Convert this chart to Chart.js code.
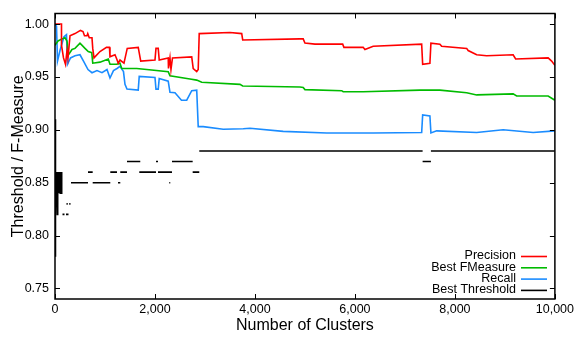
<!DOCTYPE html>
<html>
<head>
<meta charset="utf-8">
<script src="https://cdn.jsdelivr.net/npm/chart.js@4.4.1/dist/chart.umd.min.js"></script>
<style>
  body { margin: 0; background: #fff; }
  #wrap { width: 577px; height: 337px; position: relative; }
</style>
</head>
<body>
<div id="wrap"><canvas id="grafica"></canvas></div>
<script>
// valores: [clusters, valor]
const precision = [[0,1.000],[130,1.000],[130,0.980],[170,0.968],[210,0.962],[240,0.975],[260,0.968],[300,0.989],[400,0.991],[510,0.994],[560,0.993],[590,0.989],[640,0.989],[655,0.991],[685,0.987],[740,0.987],[755,0.977],[780,0.968],[900,0.974],[1030,0.978],[1090,0.978],[1100,0.969],[1200,0.971],[1235,0.967],[1265,0.963],[1300,0.966],[1380,0.963],[1445,0.977],[1665,0.978],[1715,0.965],[2000,0.966],[2020,0.977],[2065,0.977],[2085,0.966],[2265,0.968],[2270,0.958],[2300,0.968],[2320,0.957],[2350,0.968],[2735,0.969],[2765,0.958],[2835,0.955],[2865,0.957],[2885,0.991],[3500,0.992],[3735,0.991],[3755,0.985],[4900,0.986],[4965,0.986],[5000,0.982],[5200,0.981],[5755,0.981],[5780,0.978],[6165,0.978],[6200,0.976],[6365,0.979],[7335,0.981],[7355,0.962],[7500,0.963],[7520,0.982],[7700,0.981],[7735,0.979],[8235,0.977],[8265,0.975],[8435,0.971],[8635,0.970],[9165,0.971],[9215,0.967],[9865,0.968],[9935,0.965],[10000,0.961]];
const fmeasure = [[0,0.980],[60,0.984],[140,0.986],[200,0.987],[240,0.984],[270,0.971],[340,0.976],[400,0.977],[500,0.982],[600,0.977],[665,0.974],[735,0.973],[755,0.963],[900,0.964],[1065,0.967],[1100,0.962],[1235,0.962],[1300,0.963],[1335,0.958],[1635,0.958],[1835,0.957],[2265,0.955],[2300,0.951],[2700,0.948],[2835,0.947],[2935,0.945],[3700,0.943],[3755,0.9415],[4900,0.9405],[4965,0.940],[5000,0.938],[5735,0.937],[5765,0.936],[6165,0.936],[7300,0.9375],[7700,0.9375],[8235,0.935],[8435,0.933],[9165,0.934],[9235,0.932],[9865,0.932],[10000,0.928]];
const recall = [[0,1.000],[30,0.998],[50,0.965],[100,0.975],[180,0.988],[230,0.990],[250,0.962],[310,0.968],[400,0.970],[500,0.971],[570,0.965],[660,0.957],[740,0.954],[840,0.956],[940,0.954],[1040,0.957],[1100,0.949],[1170,0.956],[1240,0.958],[1300,0.960],[1370,0.955],[1400,0.943],[1440,0.9385],[1665,0.9375],[1685,0.9505],[2000,0.9495],[2020,0.9385],[2065,0.9385],[2085,0.9485],[2265,0.946],[2300,0.9355],[2400,0.935],[2530,0.928],[2635,0.928],[2735,0.937],[2835,0.9375],[2865,0.903],[2965,0.903],[3365,0.9005],[3765,0.901],[3900,0.9015],[4565,0.8985],[5435,0.897],[6365,0.897],[7335,0.8975],[7355,0.914],[7500,0.9132],[7520,0.897],[7635,0.899],[8435,0.8975],[8965,0.900],[9565,0.8975],[10000,0.899]];
// umbral: tramo inicial continuo + segmentos [desde, hasta, valor]
const thresholdEarly = [[0,0.91],[0,0.78],[12,0.82],[16,0.86],[24,0.84],[32,0.86],[40,0.84],[45,0.82],[50,0.86],[58,0.84],[66,0.86],[74,0.84],[82,0.86],[90,0.84],[98,0.86],[106,0.84],[114,0.86],[122,0.84],[130,0.86],[138,0.85]];
const thresholdSegs = [[150,190,0.82],[220,270,0.82],[230,255,0.83],[285,310,0.83],[320,660,0.85],[660,754,0.86],[754,1106,0.85],[1106,1240,0.86],[1260,1306,0.85],[1306,1440,0.86],[1440,1706,0.87],[1686,2020,0.86],[2020,2060,0.87],[2060,2340,0.86],[2286,2306,0.85],[2340,2754,0.87],[2754,2886,0.86],[2886,7354,0.88],[7354,7520,0.87],[7520,10000,0.88]];

const xTicks = [0, 2000, 4000, 6000, 8000, 10000];
const yTicks = [0.75, 0.80, 0.85, 0.90, 0.95, 1.00];
const etiquetas = ['Precision', 'Best FMeasure', 'Recall', 'Best Threshold'];
const colores = ['#ff0000', '#00bb00', '#1a8cff', '#000000'];

const FUENTE = '"Liberation Sans", Arial, Helvetica, sans-serif';

function aPuntos(arr) {
    return arr.map(p => ({ x: p[0], y: p[1] }));
}

const umbralPuntos = aPuntos(thresholdEarly);
thresholdSegs.forEach(s => {
    umbralPuntos.push({ x: s[0], y: null });
    umbralPuntos.push({ x: s[0], y: s[2] });
    umbralPuntos.push({ x: s[1], y: s[2] });
});

function serie(i, data) {
    return {
        label: etiquetas[i],
        data: data,
        borderColor: colores[i],
        backgroundColor: colores[i],
        borderWidth: 1.6,
        pointRadius: 0,
        tension: 0,
        fill: false,
        spanGaps: false
    };
}

// marco completo con marcas hacia dentro + leyenda estilo gnuplot
const marcoPlugin = {
    id: 'marco',
    afterDatasetsDraw(chart) {
        const ctx = chart.ctx;
        const a = chart.chartArea;
        const xs = chart.scales.x, ys = chart.scales.y;
        ctx.save();
        ctx.strokeStyle = '#000';
        ctx.lineWidth = 1;
        ctx.beginPath();
        xTicks.forEach(v => {
            const px = Math.round(xs.getPixelForValue(v)) + 0.5;
            ctx.moveTo(px, a.bottom); ctx.lineTo(px, a.bottom - 5);
            ctx.moveTo(px, a.top); ctx.lineTo(px, a.top + 5);
        });
        yTicks.forEach(v => {
            const py = Math.round(ys.getPixelForValue(v)) + 0.5;
            ctx.moveTo(a.left, py); ctx.lineTo(a.left + 5, py);
            ctx.moveTo(a.right, py); ctx.lineTo(a.right - 5, py);
        });
        ctx.stroke();
        ctx.lineWidth = 1.5;
        ctx.strokeRect(a.left, a.top, a.right - a.left, a.bottom - a.top);

        ctx.font = '12.5px ' + FUENTE;
        ctx.textAlign = 'right';
        ctx.textBaseline = 'middle';
        chart.data.datasets.forEach((ds, i) => {
            const y = 256 + i * 11.3;
            ctx.fillStyle = '#000';
            ctx.fillText(ds.label, 516, y);
            ctx.strokeStyle = ds.borderColor;
            ctx.lineWidth = 1.6;
            ctx.beginPath();
            ctx.moveTo(521, y + 0.5); ctx.lineTo(547, y + 0.5);
            ctx.stroke();
        });
        ctx.restore();
    }
};

new Chart(document.getElementById('grafica').getContext('2d'), {
    type: 'line',
    data: {
        datasets: [
            serie(0, aPuntos(precision)),
            serie(1, aPuntos(fmeasure)),
            serie(2, aPuntos(recall)),
            serie(3, umbralPuntos)
        ]
    },
    options: {
        responsive: true,
        maintainAspectRatio: false,
        animation: false,
        devicePixelRatio: 1,
        layout: { padding: { left: 0, right: 21, top: 8, bottom: 0 } },
        plugins: { legend: { display: false }, tooltip: { enabled: false } },
        scales: {
            x: {
                type: 'linear',
                min: 0,
                max: 10000,
                grid: { display: false, drawTicks: false },
                border: { display: false },
                afterBuildTicks: s => { s.ticks = xTicks.map(v => ({ value: v })); },
                afterFit: s => { s.height = 38; },
                ticks: {
                    color: '#000',
                    padding: 3,
                    maxRotation: 0,
                    font: { family: FUENTE, size: 12.5 },
                    callback: v => v.toLocaleString('en-US')
                },
                title: {
                    display: true,
                    text: 'Number of Clusters',
                    color: '#000',
                    font: { family: FUENTE, size: 16 },
                    padding: { top: 0, bottom: 2 }
                }
            },
            y: {
                type: 'linear',
                min: 0.74,
                max: 1.01,
                grid: { display: false, drawTicks: false },
                border: { display: false },
                afterBuildTicks: s => { s.ticks = yTicks.map(v => ({ value: v })); },
                afterFit: s => { s.width = 55; },
                ticks: {
                    color: '#000',
                    padding: 6,
                    font: { family: FUENTE, size: 12.5 },
                    callback: v => v.toFixed(2)
                },
                title: {
                    display: true,
                    text: 'Threshold / F-Measure',
                    color: '#000',
                    font: { family: FUENTE, size: 16 },
                    padding: { top: 9, bottom: 0 }
                }
            }
        }
    },
    plugins: [marcoPlugin]
});
</script>
</body>
</html>
